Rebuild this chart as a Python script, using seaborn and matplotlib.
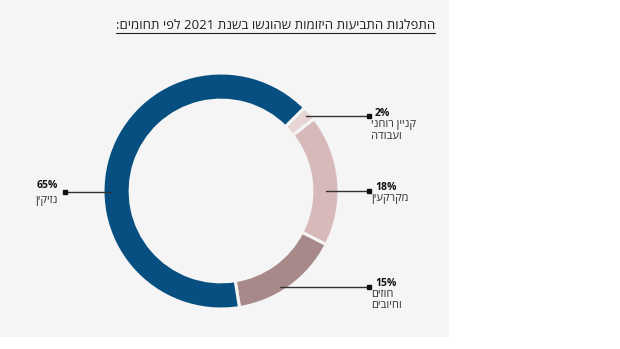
import re
import matplotlib
matplotlib.use("Agg")
import matplotlib.pyplot as plt
from matplotlib.patches import Rectangle
from matplotlib.lines import Line2D
import seaborn as sns

# ---- data ----
categories = ["קניין רוחני\nועבודה", "מקרקעין", "חוזים\nוחיובים", "נזיקין"]
values = [2, 18, 15, 65]
pct_labels = ["2%", "18%", "15%", "65%"]
colors = ["#e7d4d4", "#d7b9b9", "#a78989", "#064f80"]
title = "התפלגות התביעות היזומות שהוגשו בשנת 2021 לפי תחומים:"

sns.set_theme(style="white")
FAM = ["Open Sans", "DejaVu Sans"]
plt.rcParams["font.family"] = FAM

BG = "#f5f5f5"


def vis(s):
    """Convert logical RTL Hebrew to visual order, keeping digit runs LTR."""
    lines = []
    for line in s.split("\n"):
        r = line[::-1]
        r = re.sub(r"[0-9]+", lambda m: m.group(0)[::-1], r)
        lines.append(r)
    return "\n".join(lines)


W, H = 620, 349
fig = plt.figure(figsize=(W / 100, H / 100), dpi=100)
fig.patch.set_facecolor("white")
bgrect = Rectangle((0, 1 - 337 / H), 449 / W, 337 / H, transform=fig.transFigure,
                   facecolor=BG, edgecolor="none", zorder=-10)
fig.patches.append(bgrect)

# donut: center (221,191) px, outer radius 118 px
cx, cy, R = 221, 191, 118
ax = fig.add_axes([(cx - R) / W, 1 - (cy + R) / H, 2 * R / W, 2 * R / H])
ax.set_zorder(1)
ax.pie(values, colors=colors, startangle=45, counterclock=False, radius=1,
       wedgeprops=dict(width=0.23, edgecolor=BG, linewidth=2.2))
ax.set_xlim(-1, 1)
ax.set_ylim(-1, 1)
ax.axis("off")
ax.patch.set_alpha(0)


def d(px, py):
    return ((px - cx) / R, (cy - py) / R)


# leader lines: (start px, end px)
leaders = [((306, 116), (369, 116)),
           ((326, 191), (369, 191)),
           ((280, 287), (369, 287)),
           ((111, 192), (65, 192))]
for (p0, p1) in leaders:
    x0, y0 = d(*p0)
    x1, y1 = d(*p1)
    ax.add_line(Line2D([x0, x1], [y0, y1], color="#333333", lw=1.0, clip_on=False))
    ax.plot([x1], [y1], marker="s", ms=2.6, color="#111111", clip_on=False)


# texts (figure pixel coordinates)
def ftext(px, py, s, **kw):
    fig.text(px / W, 1 - py / H, s, **kw)


right_pos = [(375, 113, 371, 119), (375, 187, 371, 193), (375, 283, 371, 289)]
for i, (px, py, lx, ly) in enumerate(right_pos):
    ftext(px, py, pct_labels[i], fontsize=7.5, fontweight="bold", color="#111111",
          ha="left", va="center")
    ftext(lx, ly, vis(categories[i]), fontsize=8, color="#333333", ha="left", va="top",
          multialignment="left", linespacing=1.05)

ftext(58, 185, pct_labels[3], fontsize=7.5, fontweight="bold", color="#111111",
      ha="right", va="center")
ftext(58, 201, vis(categories[3]), fontsize=8, color="#333333", ha="right", va="center")

# title, underlined
t = fig.text(435 / W, 1 - 25 / H, vis(title), fontsize=9.5, color="#222222",
             ha="right", va="center")
fig.canvas.draw()
bb = t.get_window_extent()
uy = bb.y0 - 1.0
fig.add_artist(Line2D([bb.x0 / W, bb.x1 / W], [uy / H, uy / H], transform=fig.transFigure,
                      color="#222222", lw=0.8))

fig.savefig("out.png", dpi=100, facecolor="white")
